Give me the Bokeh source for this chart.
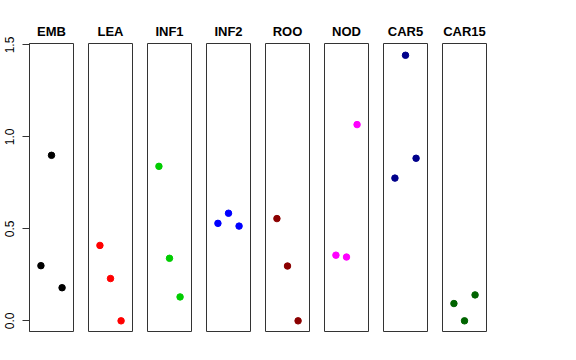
import math
from bokeh.plotting import figure
from bokeh.layouts import row
from bokeh.models import Range1d, FixedTicker
from bokeh.embed import file_html
from bokeh.resources import INLINE

groups = ["EMB", "LEA", "INF1", "INF2", "ROO", "NOD", "CAR5", "CAR15"]
colors = ["#000000", "#FF0000", "#00CD00", "#0000FF", "#8B0000", "#FF00FF", "#00008B", "#006400"]
positions = [1, 2, 3]
values = {
    "EMB":   [0.30, 0.90, 0.18],
    "LEA":   [0.41, 0.23, 0.00],
    "INF1":  [0.84, 0.34, 0.13],
    "INF2":  [0.53, 0.585, 0.515],
    "ROO":   [0.556, 0.298, 0.00],
    "NOD":   [0.357, 0.347, 1.067],
    "CAR5":  [0.776, 1.444, 0.884],
    "CAR15": [0.094, 0.00, 0.141],
}
y_ticks = [0.0, 0.5, 1.0, 1.5]
y_tick_labels = ["0.0", "0.5", "1.0", "1.5"]

FONT = "Liberation Sans"
figs = []
for i, (g, c) in enumerate(zip(groups, colors)):
    first = i == 0
    p = figure(
        frame_width=44, frame_height=288,
        x_range=Range1d(-0.08, 4.08), y_range=Range1d(-0.058, 1.508),
        x_axis_location=None,
        y_axis_location="left" if first else None,
        toolbar_location=None, output_backend="svg",
        min_border_left=29 if first else 0,
        min_border_right=15, min_border_top=43, min_border_bottom=8,
        title=g,
    )
    p.title.align = "center"
    p.title.text_font = FONT
    p.title.text_font_size = "13px"
    p.title.text_font_style = "bold"
    p.title.text_color = "#000000"
    p.title.standoff = 10
    p.grid.visible = False
    p.outline_line_color = "#333333"
    p.outline_line_width = 1
    p.background_fill_color = "white"
    p.border_fill_color = "white"
    if first:
        ax = p.yaxis[0]
        ax.ticker = FixedTicker(ticks=y_ticks)
        ax.major_label_overrides = {t: l for t, l in zip(y_ticks, y_tick_labels)}
        ax.minor_tick_line_color = None
        ax.major_tick_in = 0
        ax.major_tick_out = 7
        ax.major_label_standoff = 8
        ax.major_label_orientation = "parallel"
        ax.major_label_text_font = FONT
        ax.major_label_text_font_size = "12px"
        ax.major_label_text_color = "#000000"
        ax.axis_line_color = "#333333"
        ax.major_tick_line_color = "#333333"
    p.scatter(positions, values[g], size=6.5, color=c, line_color=c)
    figs.append(p)

layout = row(*figs)
open("out.html", "w").write(file_html(layout, INLINE))
